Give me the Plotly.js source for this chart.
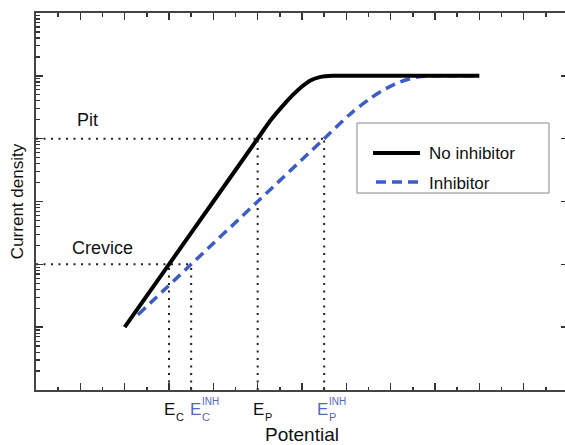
<!DOCTYPE html>
<html>
<head>
<meta charset="utf-8">
<script src="https://cdn.plot.ly/plotly-3.0.1.min.js"></script>
<style>
html, body { margin: 0; padding: 0; overflow: hidden; background: #fff; }
#chart { width: 572px; height: 445px; }
</style>
</head>
<body>
<div id="chart"></div>
<script>
// Curve data (potential units, current density values on a log axis)
const noInhX = [2, 3, 4, 5, 5.3, 5.6, 5.8, 6.0, 6.2, 6.4, 6.7, 7.2, 10];
const noInhY = [10, 100, 1000, 10000, 19950, 35500, 50100, 67600, 85100, 95500, 100000, 100000, 100000];
const inhX = [2.3, 3.5, 5, 6.5, 7.1, 7.5, 7.8, 8.2, 8.6, 9, 9.4, 10];
const inhY = [15.8, 100, 1000, 10000, 25100, 41700, 57500, 79400, 95500, 100000, 100000, 100000];

// Characteristic potentials and current levels
const potX = [3, 3.5, 5, 6.5];
const potLevel = [100, 100, 10000, 10000];
const levelNames = ['Crevice', 'Pit'];
const levelY = [100, 10000];
const levelEndX = [3.5, 6.5];
const yBottom = 1;

const seriesNames = ['No inhibitor', 'Inhibitor'];

const FONT = 'Arial, "Liberation Sans", sans-serif';
const BLUE = '#3d5cc4';
const LBLUE = '#5566c4';
const DOT = '2px,5.5px';
const DASH = '10px,6px';

const traces = [];
for (let i = 0; i < levelY.length; i++) {
  traces.push({
    x: [0, levelEndX[i]], y: [levelY[i], levelY[i]], mode: 'lines',
    line: {color: '#222', width: 2, dash: DOT},
    showlegend: false, hoverinfo: 'skip'
  });
}
for (let i = 0; i < potX.length; i++) {
  traces.push({
    x: [potX[i], potX[i]], y: [yBottom, potLevel[i]], mode: 'lines',
    line: {color: '#222', width: 2, dash: DOT},
    showlegend: false, hoverinfo: 'skip'
  });
}
traces.push({
  x: inhX, y: inhY, mode: 'lines', name: seriesNames[1], showlegend: false,
  line: {color: BLUE, width: 3.5, dash: DASH, shape: 'spline', smoothing: 0.8}
});
traces.push({
  x: noInhX, y: noInhY, mode: 'lines', name: seriesNames[0], showlegend: false,
  line: {color: '#000', width: 4, shape: 'spline', smoothing: 0.8}
});

const annotations = [
  {text: levelNames[1], xref: 'x', yref: 'paper', x: 1.17, y: 0.716, xanchor: 'center', yanchor: 'middle', showarrow: false, font: {size: 18, color: '#111', family: FONT}},
  {text: levelNames[0], xref: 'x', yref: 'paper', x: 1.49, y: 0.377, xanchor: 'center', yanchor: 'middle', showarrow: false, font: {size: 18, color: '#111', family: FONT}},
  // legend texts
  {text: seriesNames[0], xref: 'paper', yref: 'paper', x: 0.735, y: 0.6286, xanchor: 'left', yanchor: 'middle', showarrow: false, font: {size: 17, color: '#111', family: FONT}},
  {text: seriesNames[1], xref: 'paper', yref: 'paper', x: 0.735, y: 0.5490, xanchor: 'left', yanchor: 'middle', showarrow: false, font: {size: 17, color: '#111', family: FONT}}
];
function eLabel(x, xs, color, sub, sup) {
  annotations.push({text: 'E', xref: 'x', yref: 'paper', x: x, y: 0, xanchor: 'left', yanchor: 'middle', xshift: xs, yshift: -19, borderpad: 0, showarrow: false, font: {size: 17, color: color, family: FONT}});
  annotations.push({text: sub, xref: 'x', yref: 'paper', x: x, y: 0, xanchor: 'left', yanchor: 'middle', xshift: xs + 12, yshift: -27, borderpad: 0, showarrow: false, font: {size: 11, color: color, family: FONT}});
  if (sup) annotations.push({text: sup, xref: 'x', yref: 'paper', x: x, y: 0, xanchor: 'left', yanchor: 'middle', xshift: xs + 12, yshift: -11, borderpad: 0, showarrow: false, font: {size: 10, color: color, family: FONT}});
}
eLabel(potX[0], -6, '#111', 'C', null);
eLabel(potX[1], -2, LBLUE, 'C', 'INH');
eLabel(potX[2], -6, '#111', 'P', null);
eLabel(potX[3], -8, LBLUE, 'P', 'INH');

const shapes = [
  {type: 'rect', xref: 'paper', yref: 'paper', x0: 0.6034, x1: 0.9643, y0: 0.5225, y1: 0.7082, line: {color: '#888', width: 1}, fillcolor: '#fff', layer: 'above'},
  {type: 'line', xref: 'paper', yref: 'paper', x0: 0.6335, x1: 0.7218, y0: 0.6286, y1: 0.6286, line: {color: '#000', width: 4}, layer: 'above'},
  {type: 'line', xref: 'paper', yref: 'paper', x0: 0.6391, x1: 0.7199, y0: 0.5517, y1: 0.5517, line: {color: BLUE, width: 3.5, dash: DASH}, layer: 'above'}
];

const layout = {
  width: 572, height: 445,
  margin: {l: 36, r: 4, t: 13, b: 55},
  paper_bgcolor: '#fff', plot_bgcolor: '#fff',
  font: {family: FONT, size: 17, color: '#111'},
  showlegend: false,
  xaxis: {
    range: [0, 12], dtick: 1, tick0: 0, showgrid: false, zeroline: false,
    showticklabels: false, ticks: 'inside', ticklen: 7, tickwidth: 1.5, tickcolor: '#333',
    showline: true, linecolor: '#444', linewidth: 2, mirror: 'allticks',
    minor: {dtick: 0.5, tick0: 0, ticks: 'inside', ticklen: 3.5, tickwidth: 1.5, tickcolor: '#333', showgrid: false},
    title: {text: 'Potential', font: {size: 19, family: FONT, color: '#111'}, standoff: 43}
  },
  yaxis: {
    type: 'log', range: [0, 6], dtick: 1, showgrid: false, zeroline: false,
    showticklabels: false, ticks: 'inside', ticklen: 7, tickwidth: 1.5, tickcolor: '#333',
    showline: true, linecolor: '#444', linewidth: 2, mirror: 'allticks',
    minor: {dtick: 'D1', ticks: 'inside', ticklen: 3.5, tickwidth: 1.2, tickcolor: '#333', showgrid: false},
    title: {text: 'Current density', font: {size: 17, family: FONT, color: '#111'}, standoff: 6}
  },
  shapes: shapes,
  annotations: annotations
};

Plotly.newPlot('chart', traces, layout, {displayModeBar: false, staticPlot: true});
</script>
</body>
</html>
